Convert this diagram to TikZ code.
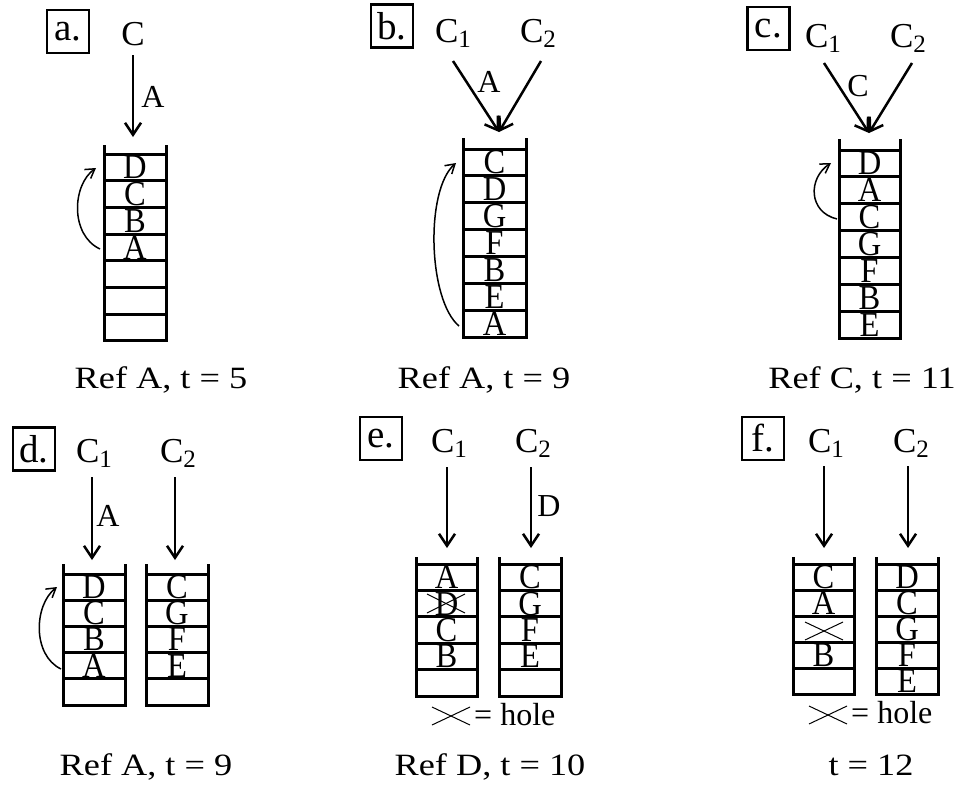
\documentclass[tikz,border=0pt]{standalone}
\usepackage{fontspec}
\setmainfont{Liberation Serif}
\newfontfamily\capfont[FakeStretch=1.17]{Liberation Serif}
\newfontfamily\cellfont[FakeStretch=0.93]{Liberation Serif}
\usetikzlibrary{arrows.meta}
\newcommand\sbs[1]{\raisebox{-5.6pt}{\fontsize{25}{25}\selectfont #1}}
\newcommand\qstack[8]{%
  \draw[stk] (#2,#4) -- (#2,{#5+#7*#6}) -- (#3,{#5+#7*#6}) -- (#3,#4);
  \foreach \i in {1,...,#7}{\draw[stk] (#2,{#5+(\i-1)*#6}) -- (#3,{#5+(\i-1)*#6});}
  \foreach \l [count=\i] in {#8}{\node[cell] (#1-\i) at ({(#2+#3)/2},{#5+(\i-0.5)*#6}) {\l};}
}
\begin{document}
\begin{tikzpicture}[x=1pt,y=-1pt,
  stk/.style={line width=3pt, line join=miter},
  arr/.style={line width=2.5pt, -{Straight Barb[length=12pt,width=16pt]}},
  carr/.style={line width=1.5pt, -{Straight Barb[length=9pt,width=11pt]}},
  cell/.style={inner sep=0pt, font=\cellfont\fontsize{35}{35}\selectfont},
  toplab/.style={inner sep=0pt, anchor=base, font=\fontsize{35}{35}\selectfont},
  lab/.style={inner sep=0pt, font=\fontsize{32}{32}\selectfont},
  panel/.style={draw, line width=2.5pt, minimum width=42pt, minimum height=43pt, inner sep=0pt, font=\fontsize{39}{39}\selectfont},
  captxt/.style={inner sep=0pt, anchor=base, font=\capfont\fontsize{31}{31}\selectfont},
  xm/.style={line width=1pt}]
\useasboundingbox (0,0) rectangle (964,785);
\fill[white] (0,0) rectangle (964,785);

% ---------------- panel a
\node[panel] (pa) at (68,31.5) {a.};
\node[toplab] (aC) at (133,45) {C};
\coordinate (a-in) at (133,137);
\draw[arr] ([yshift=-10pt]aC.base) -- (a-in);
\node[lab] (aA) at (153,97) {A};
\qstack{a}{104}{166}{145}{154}{26.7}{7}{D,C,B,A}
\coordinate (a-from) at (100,249);
\coordinate (a-to) at (96,168);
\draw[carr] (a-from) .. controls (70,235) and (72,185) .. (a-to);
\node[captxt] (capa) at (161,388) {Ref A, t = 5};

% ---------------- panel b
\node[panel] (pb) at (392,26) {b.};
\node[toplab] (b1) at (453,42) {C\sbs{1}};
\node[toplab] (b2) at (538,42) {C\sbs{2}};
\coordinate (b-in) at (499,132);
\draw[arr] ([yshift=-19pt]b1.base) -- (b-in);
\draw[arr] ([xshift=3pt,yshift=-19pt]b2.base) -- (b-in);
\node[lab] (bA) at (489,82) {A};
\qstack{b}{463}{526}{138}{149}{26.9}{7}{C,D,G,F,B,E,A}
\coordinate (b-from) at (459,326);
\coordinate (b-to) at (456,163);
\draw[carr] (b-from) .. controls (428,300) and (425,190) .. (b-to);
\node[captxt] (capb) at (484,388) {Ref A, t = 9};

% ---------------- panel c
\node[panel] (pc) at (768.5,28.5) {c.};
\node[toplab] (c1) at (823,47) {C\sbs{1}};
\node[toplab] (c2) at (908,47) {C\sbs{2}};
\coordinate (c-in) at (869,133);
\draw[arr] ([xshift=1pt,yshift=-16pt]c1.base) -- (c-in);
\draw[arr] ([xshift=4pt,yshift=-16pt]c2.base) -- (c-in);
\node[lab] (cC) at (858,86) {C};
\qstack{c}{839}{900}{139}{150}{26.9}{7}{D,A,C,G,F,B,E}
\coordinate (c-from) at (837,219);
\coordinate (c-to) at (831,163);
\draw[carr] (c-from) .. controls (808,212) and (808,178) .. (c-to);
\node[captxt] (capc) at (862,388) {Ref C, t = 11};

% ---------------- panel d
\node[panel] (pd) at (34,449) {d.};
\node[toplab] (d1) at (94,462) {C\sbs{1}};
\node[toplab] (d2) at (178,462) {C\sbs{2}};
\coordinate (d1-in) at (92,560);
\coordinate (d2-in) at (175,560);
\draw[arr] ([xshift=-2pt,yshift=-15pt]d1.base) -- (d1-in);
\draw[arr] ([xshift=-3pt,yshift=-15pt]d2.base) -- (d2-in);
\node[lab] (dA) at (108,516) {A};
\qstack{d1}{63}{125}{564}{574}{26.2}{5}{D,C,B,A}
\qstack{d2}{146}{208}{564}{574}{26.2}{5}{C,G,F,E}
\coordinate (d-from) at (61,669);
\coordinate (d-to) at (57,587);
\draw[carr] (d-from) .. controls (32,655) and (34,605) .. (d-to);
\node[captxt] (capd) at (146,775) {Ref A, t = 9};

% ---------------- panel e
\node[panel] (pe) at (381,438.5) {e.};
\node[toplab] (e1) at (449,452) {C\sbs{1}};
\node[toplab] (e2) at (533,452) {C\sbs{2}};
\coordinate (e1-in) at (447,548);
\coordinate (e2-in) at (531,548);
\draw[arr] ([xshift=-2pt,yshift=-15pt]e1.base) -- (e1-in);
\draw[arr] ([xshift=-2pt,yshift=-15pt]e2.base) -- (e2-in);
\node[lab] (eD) at (549,506) {D};
\qstack{e1}{416}{477}{557}{564}{26.4}{5}{A,D,C,B}
\qstack{e2}{499}{561}{557}{564}{26.4}{5}{C,G,F,E}
\draw[xm] (427,594) -- (465,613);
\draw[xm] (427,613) -- (465,594);
\draw[xm] (432,707) -- (470,725);
\draw[xm] (432,725) -- (470,707);
\node[lab, anchor=base west] (eh) at (474,725) {= hole};
\node[captxt] (cape) at (490,775) {Ref D, t = 10};

% ---------------- panel f
\node[panel] (pf) at (763,438.5) {f.};
\node[toplab] (f1) at (826,452) {C\sbs{1}};
\node[toplab] (f2) at (911,452) {C\sbs{2}};
\coordinate (f1-in) at (824,548);
\coordinate (f2-in) at (908,548);
\draw[arr] ([xshift=-2pt,yshift=-14pt]f1.base) -- (f1-in);
\draw[arr] ([xshift=-3pt,yshift=-14pt]f2.base) -- (f2-in);
\qstack{f1}{793}{854}{557}{564}{26}{5}{C,A,{},B}
\qstack{f2}{876}{938}{557}{564}{26}{5}{D,C,G,F,E}
\draw[xm] (805,622) -- (843,640);
\draw[xm] (805,640) -- (843,622);
\draw[xm] (809,706) -- (847,724);
\draw[xm] (809,724) -- (847,706);
\node[lab, anchor=base west] (fh) at (851,723) {= hole};
\node[captxt] (capf) at (871,775) {t = 12};
\end{tikzpicture}
\end{document}
